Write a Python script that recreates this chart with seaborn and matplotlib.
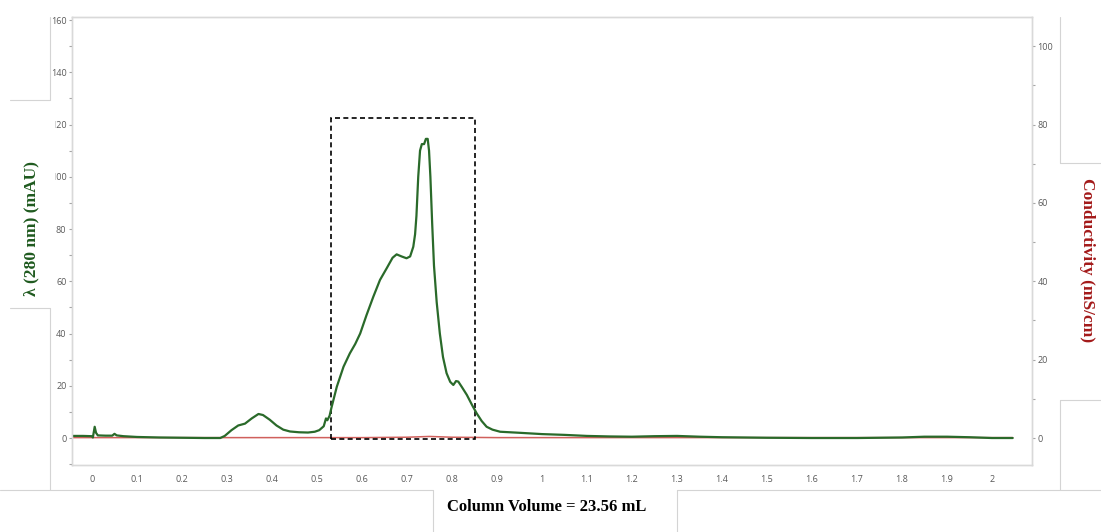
import numpy as np
import pandas as pd
import matplotlib
matplotlib.use("Agg")
import matplotlib.pyplot as plt
import seaborn as sns
from matplotlib.patches import Rectangle
from matplotlib.lines import Line2D
from matplotlib.ticker import MultipleLocator, FuncFormatter

# absorbance trace (280 nm, mAU)
cv_uv = [-0.044, -0.02, 0.0, 0.002, 0.006, 0.009, 0.013, 0.03, 0.045, 0.05, 0.055, 0.07,
         0.1, 0.15, 0.2, 0.25, 0.285, 0.295, 0.31, 0.325, 0.34, 0.355, 0.37, 0.38, 0.395,
         0.41, 0.425, 0.44, 0.46, 0.48, 0.495, 0.505, 0.515, 0.52, 0.523, 0.528, 0.532,
         0.544, 0.559, 0.573, 0.585, 0.596, 0.61, 0.625, 0.64, 0.655, 0.668, 0.677, 0.688,
         0.699, 0.707, 0.714, 0.718, 0.721, 0.725, 0.729, 0.733, 0.738, 0.742, 0.746,
         0.749, 0.752, 0.756, 0.76, 0.766, 0.773, 0.78, 0.788, 0.796, 0.803, 0.809, 0.814,
         0.822, 0.833, 0.845, 0.855, 0.866, 0.877, 0.89, 0.907, 0.95, 1.0, 1.05, 1.1, 1.15,
         1.2, 1.25, 1.3, 1.35, 1.4, 1.5, 1.6, 1.7, 1.8, 1.85, 1.9, 1.95, 2.0, 2.046]
uv_mau = [0.8, 0.8, 0.7, 0.2, 4.3, 2.0, 1.0, 0.9, 0.9, 1.6, 1.0, 0.7,
          0.4, 0.2, 0.1, 0.0, 0.0, 0.8, 3.0, 4.8, 5.5, 7.5, 9.2, 8.8, 7.0,
          4.8, 3.2, 2.5, 2.2, 2.1, 2.4, 3.0, 4.5, 7.5, 6.8, 8.5, 11.5,
          19.6, 27.3, 32.4, 36.0, 40.0, 47.0, 54.0, 60.5, 65.0, 69.0, 70.3, 69.5,
          68.8, 69.5, 73.2, 78.0, 85.0, 100.0, 110.0, 112.5, 112.5, 114.5, 114.5,
          110.0, 100.0, 82.0, 66.0, 52.0, 40.0, 31.0, 24.8, 21.5, 20.3, 21.8, 21.6,
          19.5, 16.5, 12.5, 9.4, 6.5, 4.3, 3.2, 2.4, 2.0, 1.5, 1.2, 0.8, 0.6,
          0.5, 0.7, 0.8, 0.5, 0.3, 0.1, 0.0, 0.0, 0.2, 0.5, 0.5, 0.3, 0.0, 0.0]

# conductivity trace (mS/cm)
cv_cond = [-0.044, 0.3, 0.6, 0.7, 0.75, 0.8, 0.9, 1.2, 1.5, 1.8, 2.046]
cond_ms = [0.1, 0.1, 0.1, 0.2, 0.4, 0.2, 0.1, 0.1, 0.1, 0.1, 0.1]

# collected fraction window
pool_start, pool_end, pool_top = 0.531, 0.851, 122.5

uv = pd.DataFrame({"cv": cv_uv, "mau": uv_mau})
cond = pd.DataFrame({"cv": cv_cond, "ms": cond_ms})

sns.set_style("white")
plt.rcParams["font.family"] = ["Open Sans", "DejaVu Sans"]

W, H = 1101, 532
fig = plt.figure(figsize=(W / 100, H / 100), dpi=100)
ax = fig.add_axes([72 / W, 1 - 465 / H, 960 / W, 448 / H])
ax2 = ax.twinx()

sns.lineplot(data=cond, x="cv", y="ms", ax=ax2, color="#d0605c", linewidth=1.1)
sns.lineplot(data=uv, x="cv", y="mau", ax=ax, color="#2a6a2a", linewidth=1.6)
ax.set_zorder(ax2.get_zorder() + 1)
ax.patch.set_visible(False)

ax.add_patch(Rectangle((pool_start, -0.3), pool_end - pool_start, pool_top + 0.3,
                       fill=False, edgecolor="black", linewidth=1.2,
                       linestyle=(0, (3, 2))))

ax.set_xlim(-0.0444, 2.0889)
ax.set_ylim(-10.33, 161.15)
ax2.set_ylim(-10.33 / 1.5, 161.15 / 1.5)

ax.xaxis.set_major_locator(MultipleLocator(0.1))
ax.xaxis.set_minor_locator(MultipleLocator(0.05))
ax.xaxis.set_major_formatter(FuncFormatter(lambda v, p: f"{round(v, 2):g}"))
ax.yaxis.set_major_locator(MultipleLocator(20))
ax.yaxis.set_minor_locator(MultipleLocator(10))
ax2.yaxis.set_major_locator(MultipleLocator(20))
ax2.yaxis.set_minor_locator(MultipleLocator(10))

for a in (ax, ax2):
    a.set_xlabel("")
    a.set_ylabel("")
    for s in a.spines.values():
        s.set_color("#d9d9d9")
        s.set_linewidth(1.0)
    a.tick_params(which="both", direction="out", length=2.5, width=0.8,
                  color="#a6a6a6", labelcolor="#595959", labelsize=6.5, pad=1.5)
ax.tick_params(axis="x", pad=5)
ax.set_xticks([t for t in ax.get_xticks() if -0.01 < t < 2.05])

# label boxes laid over the chart frame
def fx(px):
    return px / W

def fy(py):
    return 1 - py / H

frame = "#d4d4d4"
for (x0, y0, x1, y1) in [(50, 17, 50, 100), (50, 308, 50, 490), (10, 100, 50, 100),
                         (10, 308, 50, 308), (0, 490, 433, 490), (677, 490, 1101, 490),
                         (433, 490, 433, 532), (677, 490, 677, 532), (1060, 17, 1060, 163),
                         (1060, 163, 1101, 163), (1060, 400, 1101, 400), (1060, 400, 1060, 490)]:
    fig.add_artist(Line2D([fx(x0), fx(x1)], [fy(y0), fy(y1)], color=frame, linewidth=0.8,
                          zorder=6))
fig.add_artist(Rectangle((fx(0), fy(307)), fx(55), 206 / H, facecolor="white",
                         edgecolor="none", zorder=5))

fig.text(fx(31), fy(228), "λ (280 nm) (mAU)", rotation=90, ha="center", va="center",
         color="#1f5a1f", fontsize=12.5, fontweight="bold", family="Liberation Serif",
         zorder=7)
fig.text(fx(1087), fy(260), "Conductivity (mS/cm)", rotation=270, ha="center",
         va="center", color="#a31a1a", fontsize=12.5, fontweight="bold",
         family="Liberation Serif", zorder=7)
fig.text(fx(547), fy(507), "Column Volume = 23.56 mL", ha="center", va="center",
         color="black", fontsize=12, fontweight="bold", family="Liberation Serif",
         zorder=7)

fig.savefig("out.png", dpi=100)
